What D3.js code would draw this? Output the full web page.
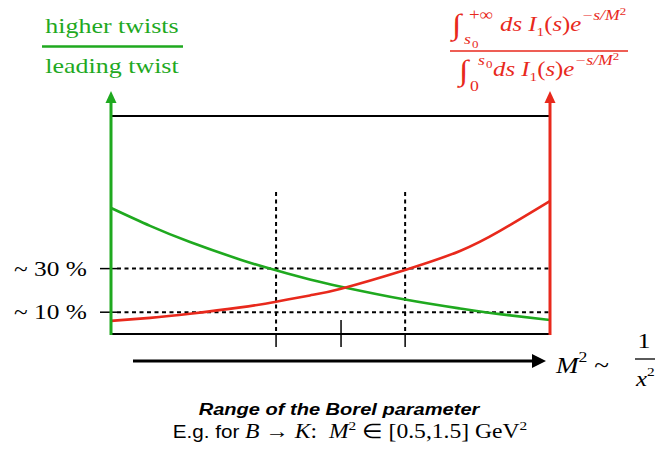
<!DOCTYPE html>
<html>
<head>
<meta charset="utf-8">
<script src="https://cdn.jsdelivr.net/npm/d3@7"></script>
<style>
  body { margin: 0; background: #fff; }
  svg { display: block; }
</style>
</head>
<body>
<svg id="chart"></svg>
<script>
// M^2 in arbitrary units (0 = left edge, 1 = right edge of the plot)
var mPoints = [0, 0.089, 0.18, 0.295, 0.376, 0.453, 0.524, 0.67, 0.795, 0.886, 1.0];
// higher twists / leading twist, in %
var higherTwist = [57.8, 49.6, 42.2, 34.1, 29.2, 25.0, 21.7, 15.8, 11.7, 9.1, 6.4];
// continuum / ground state ratio, in %
var continuum = [6.0, 7.4, 9.3, 12.2, 14.8, 17.7, 20.8, 29.4, 38.1, 47.3, 61.0];
var levels = [30, 10];
var levelLabels = ["~ 30 %", "~ 10 %"];
var windowTicks = [0.376, 0.524, 0.67];

var width = 656, height = 452;
var green = "#1fa91f", red = "#e8291c";
var serif = "'Liberation Serif', 'Times New Roman', serif";
var sans = "'Liberation Sans', Arial, sans-serif";
var stretch = 1.18; // the reference text is a bit wider than these fonts

var svg = d3.select("#chart").attr("width", width).attr("height", height);

var x = d3.scaleLinear().domain([0, 1]).range([111, 550]);
var y = d3.scaleLinear().domain([0, 100]).range([334, 116]);

function label(px, py, family, size, color, anchor) {
  return svg.append("g")
      .attr("transform", "translate(" + px + "," + py + ") scale(" + stretch + ",1)")
    .append("text")
      .attr("text-anchor", anchor || "start")
      .attr("font-family", family).attr("font-size", size)
      .attr("fill", color || "#000");
}

// frame
svg.append("path")
    .attr("d", "M" + x(0) + "," + y(0) + "H" + x(1) + "V" + y(100) + "H" + x(0) + "Z")
    .attr("fill", "none").attr("stroke", "#000").attr("stroke-width", 2);

// horizontal reference levels
levels.forEach(function(v, i) {
  svg.append("line")
      .attr("x1", x(0) - 11).attr("x2", x(0) + 6)
      .attr("y1", y(v)).attr("y2", y(v))
      .attr("stroke", "#000").attr("stroke-width", 1.5);
  svg.append("line")
      .attr("x1", x(0) + 6).attr("x2", x(1))
      .attr("y1", y(v)).attr("y2", y(v))
      .attr("stroke", "#000").attr("stroke-width", 2)
      .attr("stroke-dasharray", "4,3.5");
  label(14, y(v) + 7, serif, 21.5).text(levelLabels[i]);
});

// vertical window lines and ticks
windowTicks.forEach(function(t, i) {
  if (i !== 1) {
    svg.append("line")
        .attr("x1", x(t)).attr("x2", x(t))
        .attr("y1", 192).attr("y2", y(0))
        .attr("stroke", "#000").attr("stroke-width", 2)
        .attr("stroke-dasharray", "4,3.5");
  }
  svg.append("line")
      .attr("x1", x(t)).attr("x2", x(t))
      .attr("y1", i === 1 ? 320 : y(0)).attr("y2", 347)
      .attr("stroke", "#000").attr("stroke-width", 1.5);
});

// curves
var line = d3.line().curve(d3.curveNatural)
    .x(function(d) { return x(d[0]); })
    .y(function(d) { return y(d[1]); });

svg.append("path")
    .datum(d3.zip(mPoints, higherTwist))
    .attr("d", line)
    .attr("fill", "none").attr("stroke", green).attr("stroke-width", 2.6);

svg.append("path")
    .datum(d3.zip(mPoints, continuum))
    .attr("d", line)
    .attr("fill", "none").attr("stroke", red).attr("stroke-width", 2.6);

// vertical axes with arrows
function vAxis(px, color) {
  svg.append("line")
      .attr("x1", px).attr("x2", px)
      .attr("y1", y(0) + 1).attr("y2", 100)
      .attr("stroke", color).attr("stroke-width", 3);
  svg.append("path")
      .attr("d", "M" + (px - 5.5) + ",103L" + px + ",91L" + (px + 5.5) + ",103Z")
      .attr("fill", color);
}
vAxis(x(0), green);
vAxis(x(1), red);

// horizontal M^2 arrow
svg.append("line")
    .attr("x1", 133).attr("x2", 536)
    .attr("y1", 361).attr("y2", 361)
    .attr("stroke", "#000").attr("stroke-width", 3);
svg.append("path")
    .attr("d", "M532,354L546,361L532,368Z")
    .attr("fill", "#000");

// left title: higher twists / leading twist
label(112, 33, serif, 22, green, "middle").text("higher twists");
svg.append("line")
    .attr("x1", 42).attr("x2", 183).attr("y1", 46.5).attr("y2", 46.5)
    .attr("stroke", green).attr("stroke-width", 2.5);
label(112, 73, serif, 22, green, "middle").text("leading twist");

// right title: continuum ratio
function integrand(xp, yp) {
  var t = label(xp, yp, serif, 21, red);
  t.append("tspan").attr("font-style", "italic").text("ds I");
  t.append("tspan").attr("font-size", 13).attr("dy", 5).text("1");
  t.append("tspan").attr("dy", -5).text("(");
  t.append("tspan").attr("font-style", "italic").text("s");
  t.append("tspan").text(")");
  t.append("tspan").attr("font-style", "italic").text("e");
  t.append("tspan").attr("font-size", 15).attr("dy", -11).attr("font-style", "italic").text("\u2212s/M");
  t.append("tspan").attr("font-size", 11).attr("dy", -5).text("2");
}
function small(xp, yp, txt, italic, size) {
  label(xp, yp, serif, size, red)
      .attr("font-style", italic ? "italic" : "normal")
      .text(txt);
}
// numerator
small(452, 34, "\u222B", false, 29);
small(469, 20, "+\u221E", false, 16);
small(464, 44, "s", true, 15);
small(472, 48, "0", false, 11);
integrand(500, 31);
svg.append("line")
    .attr("x1", 450).attr("x2", 628).attr("y1", 51).attr("y2", 51)
    .attr("stroke", red).attr("stroke-width", 1.5);
// denominator
small(459, 80, "\u222B", false, 29);
small(478, 65, "s", true, 15);
small(486, 68, "0", false, 11);
small(470, 91, "0", false, 15);
integrand(493, 76);

// M^2 ~ 1/x^2
var mt = label(556, 373, serif, 23);
mt.append("tspan").attr("font-style", "italic").text("M");
mt.append("tspan").attr("font-size", 15).attr("dy", -11).text("2");
mt.append("tspan").attr("dy", 11).text(" ~");
label(644, 348, serif, 22, "#000", "middle").text("1");
svg.append("line")
    .attr("x1", 635).attr("x2", 655).attr("y1", 359).attr("y2", 359)
    .attr("stroke", "#000").attr("stroke-width", 1.3);
var xt = label(636, 386, serif, 21);
xt.append("tspan").attr("font-style", "italic").text("x");
xt.append("tspan").attr("font-size", 13).attr("dy", -10).text("2");

// caption
label(339, 415, sans, 17, "#000", "middle")
    .attr("font-weight", "bold").attr("font-style", "italic")
    .text("Range of the Borel parameter");
var cap = label(350, 438, sans, 17.5, "#000", "middle");
cap.append("tspan").text("E.g. for ");
cap.append("tspan").attr("font-family", serif).attr("font-style", "italic").attr("font-size", 20).text("B");
cap.append("tspan").attr("font-family", serif).attr("font-size", 20).text(" \u2192 ");
cap.append("tspan").attr("font-family", serif).attr("font-style", "italic").attr("font-size", 20).text("K");
cap.append("tspan").attr("font-family", serif).attr("font-size", 20).text(":\u2002");
cap.append("tspan").attr("font-family", serif).attr("font-style", "italic").attr("font-size", 20).text("M");
cap.append("tspan").attr("font-family", serif).attr("font-size", 13).attr("dy", -8).text("2");
cap.append("tspan").attr("font-family", serif).attr("font-size", 20).attr("dy", 8).text(" \u2208 [0.5,1.5] GeV");
cap.append("tspan").attr("font-family", serif).attr("font-size", 13).attr("dy", -8).text("2");
</script>
</body>
</html>
